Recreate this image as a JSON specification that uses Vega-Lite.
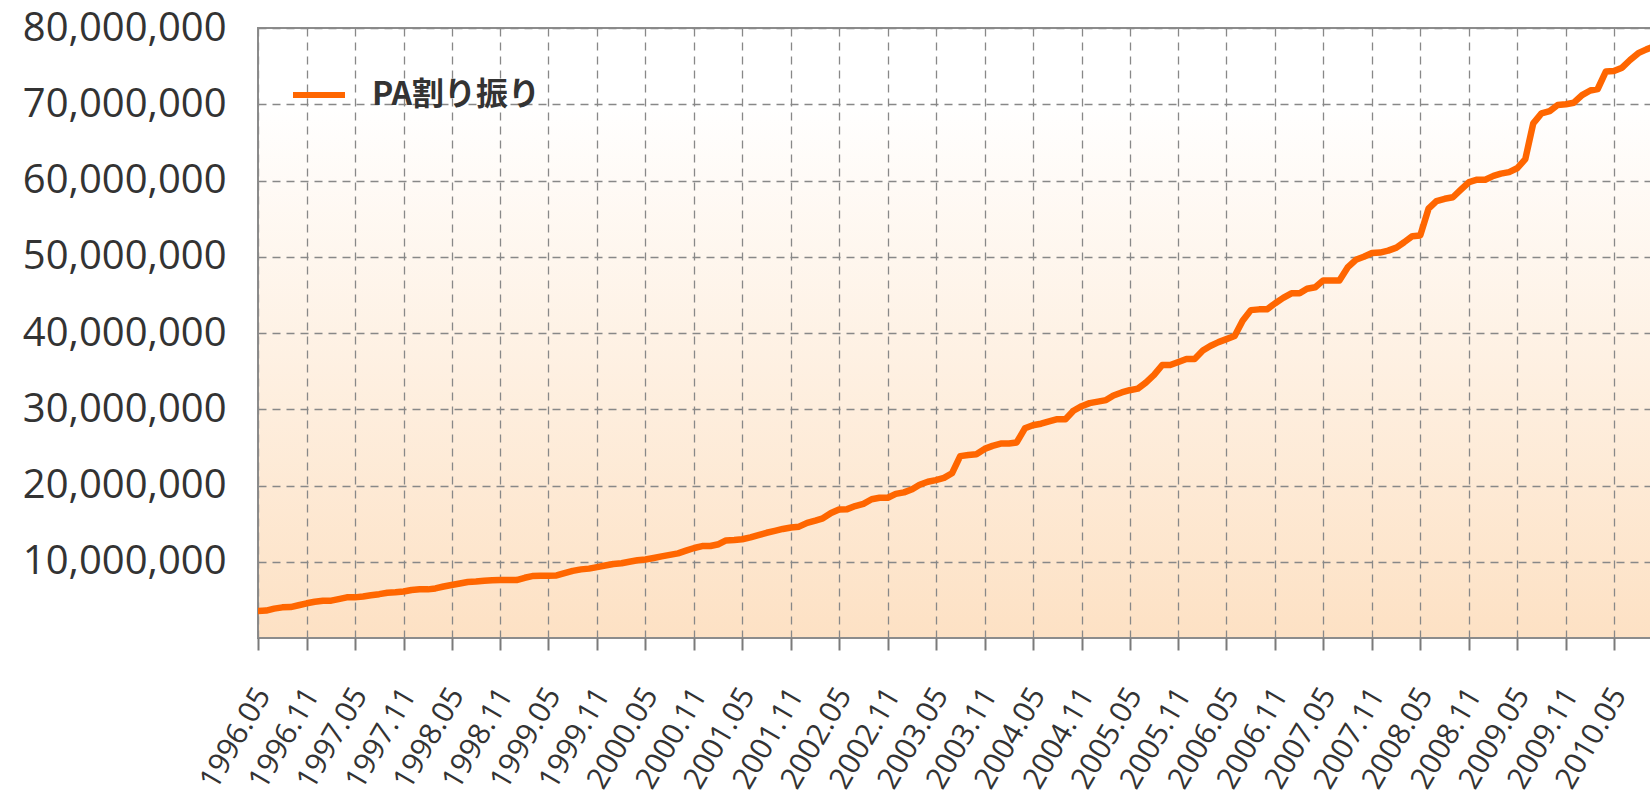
{
  "$schema": "https://vega.github.io/schema/vega-lite/v6.json",
  "autosize": {"type": "none"},
  "padding": {"left": 258, "top": 28, "right": 0, "bottom": 157},
  "width": 1393,
  "height": 610,
  "background": "white",
  "view": {"stroke": "#8c8c8c", "strokeWidth": 2, "fill": {"gradient": "linear", "x1": 0, "y1": 0, "x2": 0, "y2": 1, "stops": [{"offset": 0, "color": "#ffffff"}, {"offset": 0.12, "color": "#ffffff"}, {"offset": 1, "color": "#fde1c4"}]}},
  "config": {
    "font": "Open Sans"
  },
  "data": {"values": [
    {"month":"1996-05-01","value":3550000},{"month":"1996-06-01","value":3600000},{"month":"1996-07-01","value":3850000},{"month":"1996-08-01","value":4020000},{"month":"1996-09-01","value":4060000},{"month":"1996-10-01","value":4300000},
    {"month":"1996-11-01","value":4550000},{"month":"1996-12-01","value":4750000},{"month":"1997-01-01","value":4890000},{"month":"1997-02-01","value":4900000},{"month":"1997-03-01","value":5100000},{"month":"1997-04-01","value":5330000},
    {"month":"1997-05-01","value":5330000},{"month":"1997-06-01","value":5450000},{"month":"1997-07-01","value":5600000},{"month":"1997-08-01","value":5750000},{"month":"1997-09-01","value":5940000},{"month":"1997-10-01","value":6000000},
    {"month":"1997-11-01","value":6100000},{"month":"1997-12-01","value":6300000},{"month":"1998-01-01","value":6380000},{"month":"1998-02-01","value":6380000},{"month":"1998-03-01","value":6500000},{"month":"1998-04-01","value":6750000},
    {"month":"1998-05-01","value":6950000},{"month":"1998-06-01","value":7150000},{"month":"1998-07-01","value":7340000},{"month":"1998-08-01","value":7400000},{"month":"1998-09-01","value":7500000},{"month":"1998-10-01","value":7560000},
    {"month":"1998-11-01","value":7600000},{"month":"1998-12-01","value":7600000},{"month":"1999-01-01","value":7600000},{"month":"1999-02-01","value":7900000},{"month":"1999-03-01","value":8120000},{"month":"1999-04-01","value":8150000},
    {"month":"1999-05-01","value":8170000},{"month":"1999-06-01","value":8200000},{"month":"1999-07-01","value":8500000},{"month":"1999-08-01","value":8800000},{"month":"1999-09-01","value":9000000},{"month":"1999-10-01","value":9100000},
    {"month":"1999-11-01","value":9300000},{"month":"1999-12-01","value":9500000},{"month":"2000-01-01","value":9700000},{"month":"2000-02-01","value":9800000},{"month":"2000-03-01","value":10000000},{"month":"2000-04-01","value":10200000},
    {"month":"2000-05-01","value":10300000},{"month":"2000-06-01","value":10500000},{"month":"2000-07-01","value":10700000},{"month":"2000-08-01","value":10900000},{"month":"2000-09-01","value":11100000},{"month":"2000-10-01","value":11450000},
    {"month":"2000-11-01","value":11800000},{"month":"2000-12-01","value":12050000},{"month":"2001-01-01","value":12060000},{"month":"2001-02-01","value":12300000},{"month":"2001-03-01","value":12800000},{"month":"2001-04-01","value":12840000},
    {"month":"2001-05-01","value":12950000},{"month":"2001-06-01","value":13200000},{"month":"2001-07-01","value":13500000},{"month":"2001-08-01","value":13800000},{"month":"2001-09-01","value":14050000},{"month":"2001-10-01","value":14300000},
    {"month":"2001-11-01","value":14500000},{"month":"2001-12-01","value":14600000},{"month":"2002-01-01","value":15100000},{"month":"2002-02-01","value":15400000},{"month":"2002-03-01","value":15700000},{"month":"2002-04-01","value":16400000},
    {"month":"2002-05-01","value":16850000},{"month":"2002-06-01","value":16900000},{"month":"2002-07-01","value":17300000},{"month":"2002-08-01","value":17600000},{"month":"2002-09-01","value":18200000},{"month":"2002-10-01","value":18400000},
    {"month":"2002-11-01","value":18400000},{"month":"2002-12-01","value":18900000},{"month":"2003-01-01","value":19100000},{"month":"2003-02-01","value":19500000},{"month":"2003-03-01","value":20100000},{"month":"2003-04-01","value":20500000},
    {"month":"2003-05-01","value":20700000},{"month":"2003-06-01","value":21000000},{"month":"2003-07-01","value":21600000},{"month":"2003-08-01","value":23850000},{"month":"2003-09-01","value":24000000},{"month":"2003-10-01","value":24100000},
    {"month":"2003-11-01","value":24800000},{"month":"2003-12-01","value":25200000},{"month":"2004-01-01","value":25500000},{"month":"2004-02-01","value":25500000},{"month":"2004-03-01","value":25650000},{"month":"2004-04-01","value":27500000},
    {"month":"2004-05-01","value":27900000},{"month":"2004-06-01","value":28100000},{"month":"2004-07-01","value":28400000},{"month":"2004-08-01","value":28700000},{"month":"2004-09-01","value":28700000},{"month":"2004-10-01","value":29800000},
    {"month":"2004-11-01","value":30400000},{"month":"2004-12-01","value":30800000},{"month":"2005-01-01","value":31000000},{"month":"2005-02-01","value":31200000},{"month":"2005-03-01","value":31800000},{"month":"2005-04-01","value":32200000},
    {"month":"2005-05-01","value":32500000},{"month":"2005-06-01","value":32700000},{"month":"2005-07-01","value":33500000},{"month":"2005-08-01","value":34500000},{"month":"2005-09-01","value":35800000},{"month":"2005-10-01","value":35800000},
    {"month":"2005-11-01","value":36200000},{"month":"2005-12-01","value":36600000},{"month":"2006-01-01","value":36600000},{"month":"2006-02-01","value":37700000},{"month":"2006-03-01","value":38300000},{"month":"2006-04-01","value":38800000},
    {"month":"2006-05-01","value":39200000},{"month":"2006-06-01","value":39600000},{"month":"2006-07-01","value":41600000},{"month":"2006-08-01","value":43000000},{"month":"2006-09-01","value":43100000},{"month":"2006-10-01","value":43100000},
    {"month":"2006-11-01","value":43900000},{"month":"2006-12-01","value":44600000},{"month":"2007-01-01","value":45200000},{"month":"2007-02-01","value":45200000},{"month":"2007-03-01","value":45800000},{"month":"2007-04-01","value":46000000},
    {"month":"2007-05-01","value":46900000},{"month":"2007-06-01","value":46900000},{"month":"2007-07-01","value":46900000},{"month":"2007-08-01","value":48600000},{"month":"2007-09-01","value":49600000},{"month":"2007-10-01","value":50000000},
    {"month":"2007-11-01","value":50500000},{"month":"2007-12-01","value":50550000},{"month":"2008-01-01","value":50800000},{"month":"2008-02-01","value":51200000},{"month":"2008-03-01","value":51900000},{"month":"2008-04-01","value":52700000},
    {"month":"2008-05-01","value":52800000},{"month":"2008-06-01","value":56300000},{"month":"2008-07-01","value":57300000},{"month":"2008-08-01","value":57600000},{"month":"2008-09-01","value":57800000},{"month":"2008-10-01","value":58800000},
    {"month":"2008-11-01","value":59800000},{"month":"2008-12-01","value":60100000},{"month":"2009-01-01","value":60100000},{"month":"2009-02-01","value":60600000},{"month":"2009-03-01","value":60900000},{"month":"2009-04-01","value":61100000},
    {"month":"2009-05-01","value":61600000},{"month":"2009-06-01","value":62800000},{"month":"2009-07-01","value":67500000},{"month":"2009-08-01","value":68800000},{"month":"2009-09-01","value":69100000},{"month":"2009-10-01","value":69900000},
    {"month":"2009-11-01","value":70000000},{"month":"2009-12-01","value":70200000},{"month":"2010-01-01","value":71200000},{"month":"2010-02-01","value":71800000},{"month":"2010-03-01","value":72000000},{"month":"2010-04-01","value":74300000},
    {"month":"2010-05-01","value":74350000},{"month":"2010-06-01","value":74800000},{"month":"2010-07-01","value":75800000},{"month":"2010-08-01","value":76700000},{"month":"2010-09-01","value":77200000},{"month":"2010-10-01","value":77600000}
  ]},
  "mark": {"type": "line", "stroke": "#ff6600", "strokeWidth": 6.5, "strokeJoin": "round", "strokeCap": "round", "clip": true},
  "encoding": {
    "x": {"field": "month", "type": "temporal",
      "scale": {"type": "utc", "domain": [{"year": 1996, "month": 5, "date": 1, "utc": true}, {"year": 2010, "month": 9, "date": 18, "utc": true}]},
      "axis": {"orient": "bottom", "title": null,
        "labelExpr": "utcFormat(datum.value, '%Y.%m')",
        "labelAngle": -60, "labelAlign": "right", "labelBaseline": "middle", "labelFontSize": 30, "labelFont": "Open Sans", "labelColor": "#333333", "labelPadding": 40, "labelOffset": 5, "labelOverlap": false, "labelFlush": false, "labelBound": false, "labelLimit": 0,
        "ticks": true, "tickSize": 12, "tickColor": "#7a7a7a", "tickWidth": 2, "tickOpacity": 1, "domain": false,
        "grid": true, "gridColor": "#888888", "gridDash": [8, 6], "gridWidth": 1.3,
        "values": [
          {"year":1996,"month":5,"date":1,"utc":true},{"year":1996,"month":11,"date":1,"utc":true},{"year":1997,"month":5,"date":1,"utc":true},{"year":1997,"month":11,"date":1,"utc":true},{"year":1998,"month":5,"date":1,"utc":true},{"year":1998,"month":11,"date":1,"utc":true},{"year":1999,"month":5,"date":1,"utc":true},{"year":1999,"month":11,"date":1,"utc":true},{"year":2000,"month":5,"date":1,"utc":true},{"year":2000,"month":11,"date":1,"utc":true},{"year":2001,"month":5,"date":1,"utc":true},{"year":2001,"month":11,"date":1,"utc":true},{"year":2002,"month":5,"date":1,"utc":true},{"year":2002,"month":11,"date":1,"utc":true},{"year":2003,"month":5,"date":1,"utc":true},{"year":2003,"month":11,"date":1,"utc":true},{"year":2004,"month":5,"date":1,"utc":true},{"year":2004,"month":11,"date":1,"utc":true},{"year":2005,"month":5,"date":1,"utc":true},{"year":2005,"month":11,"date":1,"utc":true},{"year":2006,"month":5,"date":1,"utc":true},{"year":2006,"month":11,"date":1,"utc":true},{"year":2007,"month":5,"date":1,"utc":true},{"year":2007,"month":11,"date":1,"utc":true},{"year":2008,"month":5,"date":1,"utc":true},{"year":2008,"month":11,"date":1,"utc":true},{"year":2009,"month":5,"date":1,"utc":true},{"year":2009,"month":11,"date":1,"utc":true},{"year":2010,"month":5,"date":1,"utc":true}
        ]}},
    "y": {"field": "value", "type": "quantitative",
      "scale": {"domain": [0, 80000000], "nice": false},
      "axis": {"title": null, "values": [10000000, 20000000, 30000000, 40000000, 50000000, 60000000, 70000000, 80000000], "format": ",d",
        "labelFontSize": 40, "labelFont": "Open Sans", "labelColor": "#333333", "labelPadding": 32, "labelLimit": 0, "ticks": false, "domain": false,
        "grid": true, "gridColor": "#888888", "gridDash": [8, 6], "gridWidth": 1.3}},
    "color": {"datum": "PA割り振り", "type": "nominal",
      "scale": {"range": ["#ff6600"]},
      "legend": {"orient": "none", "legendX": 32, "legendY": 38, "title": null, "symbolType": "stroke", "symbolSize": 2704, "symbolStrokeWidth": 6, "labelFontSize": 32, "labelLimit": 0, "labelFont": "Noto Sans CJK JP", "labelFontWeight": "bold", "labelColor": "#333333", "labelOffset": 24, "padding": 0}}
  }
}
